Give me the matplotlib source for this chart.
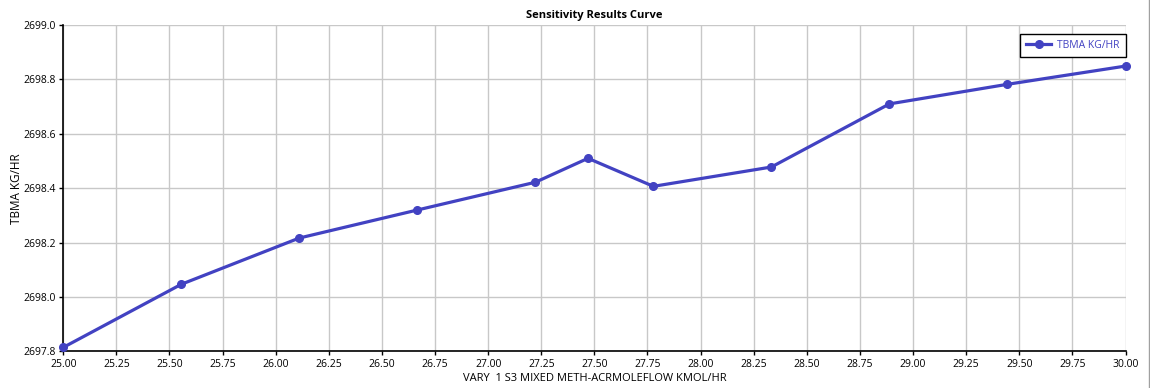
### Library Imports
import matplotlib
matplotlib.use('Agg')
import matplotlib.pyplot as plt
from matplotlib.lines import Line2D

### Data
flow_kmol = [25.0, 25.5556, 26.1111, 26.6667, 27.2222, 27.47, 27.7778,
             28.3333, 28.8889, 29.4444, 30.0]
tbma_kg = [2697.815, 2698.047, 2698.217, 2698.320, 2698.422, 2698.510,
           2698.407, 2698.478, 2698.710, 2698.782, 2698.849]
x_ticks = [25.0 + 0.25 * i for i in range(21)]
y_ticks = [2697.8, 2698.0, 2698.2, 2698.4, 2698.6, 2698.8, 2699.0]

line_color = '#4242c2'
plt.rcParams['font.family'] = ['Open Sans', 'DejaVu Sans']

fig = plt.figure(figsize=(11.5, 3.88), dpi=100)
ax = fig.add_axes([0.0550, 0.0941, 0.9237, 0.8415])

ax.plot(flow_kmol, tbma_kg, color=line_color, lw=2.3, marker='o', ms=5.5,
        label='TBMA KG/HR', clip_on=False, zorder=3)

ax.set_xlim(25.0, 30.0)
ax.set_ylim(2697.8, 2699.0)
ax.set_xticks(x_ticks)
ax.set_xticklabels(['%.2f' % t for t in x_ticks])
ax.set_yticks(y_ticks)
ax.set_yticklabels(['%.1f' % t for t in y_ticks])
ax.tick_params(axis='both', labelsize=7.5, length=3, width=1, color='black', pad=2.5)

ax.grid(True, color='#c8c8c8', lw=1)
ax.set_axisbelow(True)
ax.spines['top'].set_visible(False)
ax.spines['right'].set_visible(False)
ax.spines['left'].set_linewidth(1.2)
ax.spines['bottom'].set_linewidth(1.2)

ax.set_title('Sensitivity Results Curve', fontsize=8, fontweight='bold', pad=5)
ax.set_xlabel('VARY  1 S3 MIXED METH-ACRMOLEFLOW KMOL/HR', fontsize=8, labelpad=2)
ax.set_ylabel('TBMA KG/HR', fontsize=8.5, labelpad=0)

leg = ax.legend(loc='upper right', bbox_to_anchor=(1.0, 0.972), fontsize=7.5,
                fancybox=False, framealpha=1, edgecolor='black', borderaxespad=0,
                handlelength=2.4, borderpad=0.55, handletextpad=0.6)
leg.get_frame().set_linewidth(1)
for txt in leg.get_texts():
    txt.set_color(line_color)

# light frame line at the right edge of the window
fig.add_artist(Line2D([0.9995, 0.9995], [0, 1], color='#a0a0a0', lw=1,
                      transform=fig.transFigure))

fig.savefig('out.png', dpi=100)
